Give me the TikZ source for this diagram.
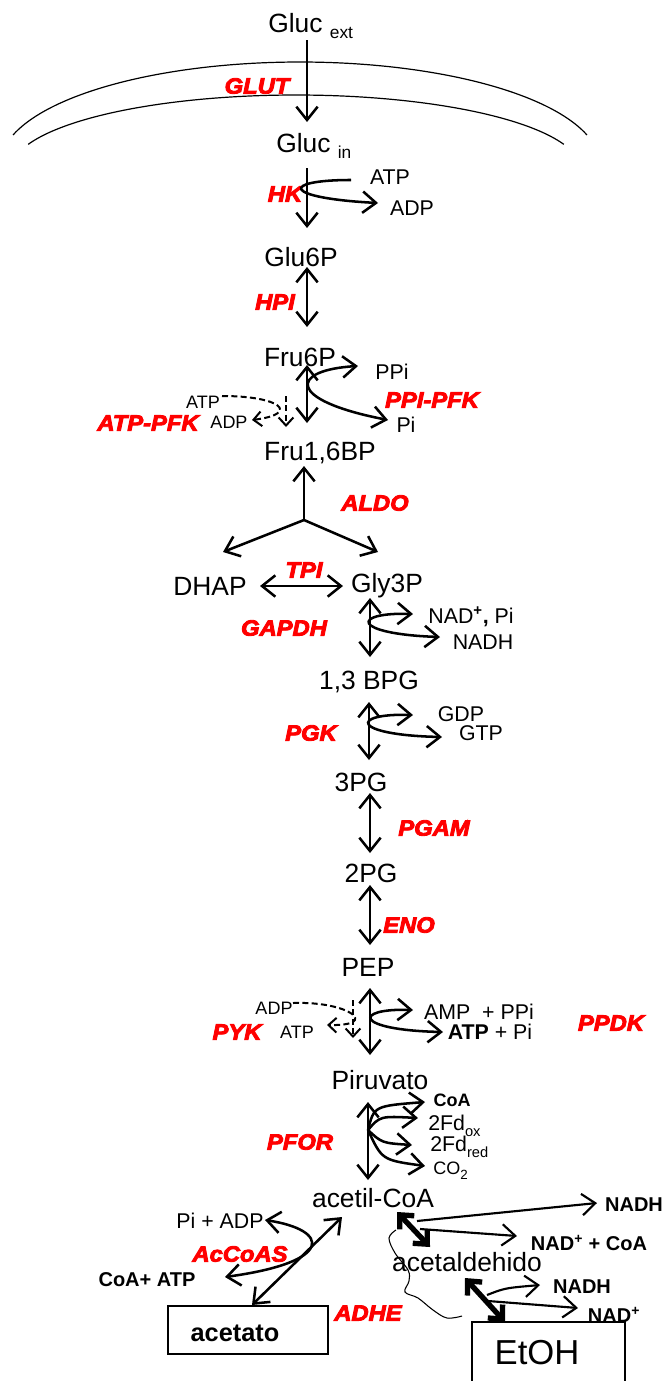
\documentclass[tikz,border=0pt]{standalone}
\usepackage{fontspec}
\setmainfont{Liberation Sans}
\newfontfamily\enzfont{Liberation Sans}[BoldItalicFeatures={FakeStretch=1.08,FakeBold=4}]
\usetikzlibrary{arrows.meta}
\tikzset{
 met/.style={inner sep=0pt, font=\fontsize{19.8}{22}\selectfont},
 cof/.style={inner sep=0pt, font=\fontsize{16}{18}\selectfont},
 cofs/.style={inner sep=0pt, font=\fontsize{13.5}{15}\selectfont},
 cofb/.style={inner sep=0pt, font=\fontsize{15}{17}\selectfont\bfseries},
 enz/.style={inner sep=0pt, text=red, font=\enzfont\fontsize{16.5}{18}\selectfont\bfseries\itshape},
 myb/.tip={Straight Barb[length=10pt,width=16pt]},
 smb/.tip={Straight Barb[length=6pt,width=11pt]},
 thb/.tip={Straight Barb[length=8pt,width=15pt]},
 fw/.style={line width=1.9pt, -myb},
 rv/.style={line width=1.9pt, myb-myb},
 dsh/.style={line width=1.5pt, dash pattern=on 4.5pt off 2.5pt},
 thk/.style={line width=4pt, thb-thb},
 thin/.style={line width=1.6pt, -myb},
 memb/.style={line width=0.9pt},
}
\begin{document}
\begin{tikzpicture}[x=0.75pt,y=-0.75pt]
\useasboundingbox (0,0) rectangle (667,1381);
% membrane
\draw[memb] plot[domain=163:17, samples=90] ({300+300*cos(\x)},{165-103*sin(\x)});
\draw[memb] plot[domain=160:20, samples=90] ({296+285*cos(\x)},{170-75*sin(\x)});
% top
\node[met, anchor=base west] (glucext) at (268,32) {Gluc \raisebox{-4.5pt}{\fontsize{13}{14}\selectfont ext}};
\node[enz] (glut) at (257,86) {GLUT};
\node[met, anchor=base west] (glucin) at (276,152) {Gluc \raisebox{-5pt}{\fontsize{13}{14}\selectfont in}};
\coordinate (g1) at (307,40); \coordinate (g2) at (307,122);
\draw[fw] (g1) -- (g2);
% HK
\coordinate (hk1) at (307,168); \coordinate (hk2) at (307,228);
\draw[fw] (hk1) -- (hk2);
\node[enz] (hk) at (285,194) {HK};
\node[cof] (hkatp) at (390,177) {ATP};
\node[cof] (hkadp) at (412,208) {ADP};
\coordinate (hkc1) at (351,180); \coordinate (hkc2) at (378,203);
\draw[fw] (hkc1) .. controls (280,180) and (282,198) .. (hkc2);
% Glu6P
\node[met] (glu6p) at (301,257) {Glu6P};
\coordinate (hp1) at (307,267); \coordinate (hp2) at (307,327);
\draw[rv] (hp1) -- (hp2);
\node[enz] (hpi) at (275,302) {HPI};
% Fru6P
\node[met] (fru6p) at (300,357) {Fru6P};
\coordinate (pf1) at (307,365); \coordinate (pf2) at (307,423);
\draw[rv] (pf1) -- (pf2);
\coordinate (ppa) at (358,366); \coordinate (ppb) at (388,420);
\draw[rv] (ppa) .. controls (290,370) and (285,400) .. (ppb);
\node[cof] (ppi) at (392,372) {PPi};
\node[cof] (pi1) at (406,425) {Pi};
\node[enz] (ppipfk) at (432,400) {PPI-PFK};
\node[enz] (atppfk) at (148,423) {ATP-PFK};
\node[cofs] (patp) at (203,402) {ATP};
\node[cofs] (padp) at (229,422) {ADP};
\coordinate (da1) at (222,396); \coordinate (da2) at (252,420);
\draw[dsh, -smb] (da1) .. controls (282,396) and (300,414) .. (da2);
\coordinate (dv1) at (286,396); \coordinate (dv2) at (286,427);
\draw[dsh, -smb] (dv1) -- (dv2);
\node[met] (fru16bp) at (320,453) {Fru1,6BP};
% ALDO
\coordinate (aj) at (304,520); \coordinate (au) at (304,466);
\coordinate (al) at (223,552); \coordinate (ar) at (378,552);
\draw[fw] (aj) -- (au);
\draw[fw] (aj) -- (al);
\draw[fw] (aj) -- (ar);
\node[enz] (aldo) at (375,503) {ALDO};
\node[met] (dhap) at (210,586) {DHAP};
\node[met] (gly3p) at (387,586) {Gly3P};
\coordinate (t1) at (260,586); \coordinate (t2) at (343,586);
\draw[rv] (t1) -- (t2);
\node[enz] (tpi) at (304,570) {TPI};
% GAPDH
\coordinate (ga1) at (370,598); \coordinate (ga2) at (370,657);
\draw[rv] (ga1) -- (ga2);
\node[enz] (gapdh) at (284,628) {GAPDH};
\coordinate (gc1) at (413,614); \coordinate (gc2) at (440,637);
\draw[rv] (gc1) .. controls (351,612) and (351,634) .. (gc2);
\node[cof] (nadpi) at (471,617) {NAD\textsuperscript{\textbf{+}}\textbf{,} Pi};
\node[cof] (nadh1) at (483,642) {NADH};
\node[met] (bpg) at (369,682) {1,3 BPG};
% PGK
\coordinate (pk1) at (369,702); \coordinate (pk2) at (369,760);
\draw[rv] (pk1) -- (pk2);
\node[enz] (pgk) at (311,733) {PGK};
\coordinate (pc1) at (413,715); \coordinate (pc2) at (442,737);
\draw[rv] (pc1) .. controls (350,713) and (350,735) .. (pc2);
\node[cof] (gdp) at (461,714) {GDP};
\node[cof] (gtp) at (481,733) {GTP};
\node[met] (pg3) at (361,782) {3PG};
\coordinate (pm1) at (370,793); \coordinate (pm2) at (370,853);
\draw[rv] (pm1) -- (pm2);
\node[enz] (pgam) at (434,828) {PGAM};
\node[met] (pg2) at (371,873) {2PG};
\coordinate (en1) at (370,885); \coordinate (en2) at (370,945);
\draw[rv] (en1) -- (en2);
\node[enz] (eno) at (409,925) {ENO};
\node[met] (pep) at (368,967) {PEP};
% PYK / PPDK
\coordinate (pp1) at (370,988); \coordinate (pp2) at (370,1055);
\draw[rv] (pp1) -- (pp2);
\coordinate (pdc1) at (413,1010); \coordinate (pdc2) at (443,1032);
\draw[rv] (pdc1) .. controls (353,1008) and (353,1030) .. (pdc2);
\node[cof] (amp) at (479,1012) {AMP \ + PPi};
\node[cof] (atppi) at (490,1032) {\textbf{ATP} + Pi};
\node[enz] (ppdk) at (611,1023) {PPDK};
\node[enz] (pyk) at (237,1032) {PYK};
\node[cofs] (yadp) at (274,1008) {ADP};
\node[cofs] (yatp) at (297,1032) {ATP};
\coordinate (yd1) at (293,1003); \coordinate (yd2) at (327,1025);
\draw[dsh, -smb] (yd1) .. controls (350,1001) and (380,1026) .. (yd2);
\coordinate (yv1) at (353,1000); \coordinate (yv2) at (353,1038);
\draw[dsh, -smb] (yv1) -- (yv2);
\node[met] (pir) at (380,1080) {Piruvato};
% PFOR
\coordinate (pr1) at (368,1102); \coordinate (pr2) at (368,1180);
\draw[rv] (pr1) -- (pr2);
\node[enz] (pfor) at (300,1142) {PFOR};
\coordinate (fo) at (368,1130);
\coordinate (fa) at (425,1102); \coordinate (fb) at (418,1118);
\coordinate (fc) at (412,1145); \coordinate (fd) at (425,1166);
\draw[fw] (fo) .. controls (374,1106) .. (fa);
\draw[fw] (fo) .. controls (380,1116) .. (fb);
\draw[fw] (fo) .. controls (382,1143) .. (fc);
\draw[fw] (fo) .. controls (382,1160) .. (fd);
\node[inner sep=0pt, font=\fontsize{13.5}{15}\selectfont\bfseries] (coa1) at (452,1100) {CoA};
\node[cof, anchor=base west] (fdox) at (428,1130) {2Fd\raisebox{-5pt}{\fontsize{11}{12}\selectfont ox}};
\node[cof, anchor=base west] (fdred) at (430,1151) {2Fd\raisebox{-5pt}{\fontsize{11}{12}\selectfont red}};
\node[cofs, anchor=base west] (co2) at (433,1174) {CO\raisebox{-4pt}{\fontsize{10}{11}\selectfont 2}};
\node[met] (acoa) at (373,1198) {acetil-CoA};
% AcCoAS
\node[cof] (piadp) at (220,1221) {Pi + ADP};
\node[enz] (accoas) at (240,1254) {AcCoAS};
\node[cofb] (coaatp) at (147,1280) {CoA+ ATP};
\node[draw, line width=1.2pt, minimum width=120pt, minimum height=36pt, inner sep=0pt] (acbox) at (248,1330) {};
\node[inner sep=0pt, font=\fontsize{19}{21}\selectfont\bfseries] (acetato) at (235,1333) {acetato};
\coordinate (s1) at (252,1305); \coordinate (s2) at (342,1217);
\draw[rv] (s1) -- (s2);
\coordinate (cc1) at (265,1220); \coordinate (cc2) at (225,1277);
\draw[rv] (cc1) .. controls (330,1230) and (335,1262) .. (cc2);
\node[enz] (adhe) at (368,1313) {ADHE};
% ADHE right
\node[met] (acald) at (467,1262) {acetaldehido};
\coordinate (k1) at (397,1212); \coordinate (k2) at (430,1247);
\draw[thk] (k1) -- (k2);
\coordinate (n1s) at (417,1221); \coordinate (n1e) at (597,1203);
\draw[thin] (n1s) -- (n1e);
\coordinate (n2s) at (420,1229); \coordinate (n2e) at (517,1236);
\draw[thin] (n2s) -- (n2e);
\node[cofb] (nadh2) at (634,1205) {NADH};
\node[cofb] (nadcoa) at (589,1243) {NAD\textsuperscript{+} + CoA};
\coordinate (k3) at (465,1278); \coordinate (k4) at (505,1322);
\draw[thk] (k3) -- (k4);
\coordinate (n3s) at (487,1295); \coordinate (n3e) at (540,1285);
\draw[thin] (n3s) .. controls (505,1288) .. (n3e);
\coordinate (n4s) at (488,1301); \coordinate (n4e) at (578,1308);
\draw[thin] (n4s) -- (n4e);
\node[cofb] (nadh3) at (582,1287) {NADH};
\node[cofb] (nad4) at (614,1315) {NAD\textsuperscript{+}};
\draw[line width=0.8pt] plot[smooth, tension=0.6] coordinates {(396,1230) (389,1238) (395,1253) (408,1270) (409,1281) (405,1292) (418,1298) (433,1310) (447,1318) (462,1316)};
\coordinate (eb1) at (472,1390); \coordinate (eb2) at (472,1322);
\coordinate (eb3) at (625,1322); \coordinate (eb4) at (625,1390);
\draw[line width=1.2pt] (eb1) -- (eb2) -- (eb3) -- (eb4);
\node[inner sep=0pt, font=\fontsize{26}{28}\selectfont] (etoh) at (537,1353) {EtOH};
\end{tikzpicture}
\end{document}
